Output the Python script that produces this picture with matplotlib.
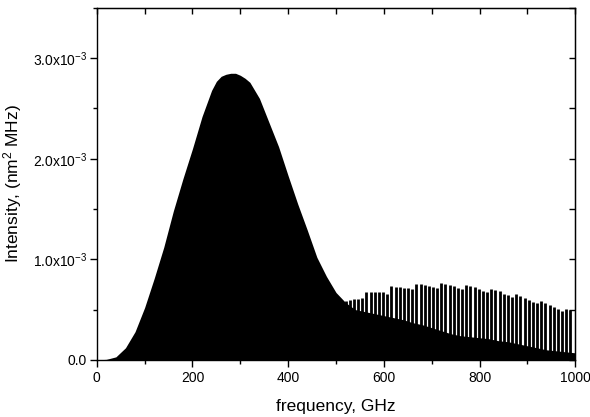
import numpy as np
import matplotlib.pyplot as plt
from matplotlib.ticker import MultipleLocator, FixedLocator

plt.rcParams["font.family"] = ["Liberation Sans", "DejaVu Sans"]
plt.rcParams["mathtext.fontset"] = "custom"
plt.rcParams["mathtext.rm"] = "Liberation Sans"
plt.rcParams["mathtext.it"] = "Liberation Sans"

# ---- envelope of the dense band (GHz, intensity in 1e-3 nm^2 MHz)
env_freq = [0, 20, 40, 60, 80, 100, 120, 140, 160, 180, 200, 220, 240, 250, 260,
            270, 280, 290, 300, 310, 320, 340, 360, 380, 400, 420, 440, 460, 480,
            500, 520, 540, 560, 580, 600, 620, 640, 660, 680, 700, 720, 740, 760,
            780, 800, 820, 840, 860, 880, 900, 920, 940, 960, 980, 1000]
env_int = [0.0, 0.005, 0.03, 0.12, 0.28, 0.52, 0.81, 1.12, 1.48, 1.80, 2.10, 2.42,
           2.68, 2.77, 2.82, 2.84, 2.85, 2.85, 2.83, 2.80, 2.76, 2.60, 2.36, 2.12,
           1.83, 1.55, 1.29, 1.02, 0.83, 0.67, 0.57, 0.50, 0.48, 0.46, 0.44, 0.42,
           0.40, 0.37, 0.35, 0.32, 0.29, 0.26, 0.24, 0.23, 0.22, 0.21, 0.19, 0.18,
           0.16, 0.14, 0.12, 0.10, 0.09, 0.08, 0.07]

# ---- strong comb lines above ~520 GHz
comb_freq = [520.0, 528.7, 537.4, 546.1, 554.8, 563.5, 572.2, 580.9, 589.6, 598.3,
             607.0, 615.7, 624.4, 633.1, 641.8, 650.5, 659.2, 667.9, 676.6, 685.3,
             694.0, 702.7, 711.4, 720.1, 728.8, 737.5, 746.2, 754.9, 763.6, 772.3,
             781.0, 789.7, 798.4, 807.1, 815.8, 824.5, 833.2, 841.9, 850.6, 859.3,
             868.0, 876.7, 885.4, 894.1, 902.8, 911.5, 920.2, 928.9, 937.6, 946.3,
             955.0, 963.7, 972.4, 981.1, 989.8]
comb_int = [0.59, 0.60, 0.61, 0.61, 0.62,
            0.67, 0.67, 0.67, 0.67, 0.67, 0.66,
            0.73, 0.72, 0.72, 0.71, 0.71, 0.70,
            0.75, 0.75, 0.74, 0.73, 0.72, 0.71,
            0.76, 0.75, 0.74, 0.73, 0.71, 0.70,
            0.74, 0.73, 0.72, 0.70, 0.68, 0.67,
            0.70, 0.69, 0.68, 0.66, 0.65, 0.63,
            0.66, 0.64, 0.62, 0.60, 0.58, 0.57,
            0.59, 0.57, 0.55, 0.53, 0.51, 0.49,
            0.51, 0.50]

yticks = [0.0, 1e-3, 2e-3, 3e-3]
ylabels = ["0.0", r"1.0x10$^{-3}$", r"2.0x10$^{-3}$", r"3.0x10$^{-3}$"]

fig = plt.figure(figsize=(5.9, 4.17), dpi=100)
ax = fig.add_axes([0.164, 0.137, 0.811, 0.844])

ax.fill_between(env_freq, np.array(env_int) * 1e-3, 0, color="black", lw=0)
ax.vlines(comb_freq, 0, np.array(comb_int) * 1e-3, color="black", lw=2.0)

ax.set_xlim(0, 1000)
ax.set_ylim(0, 3.5e-3)

ax.xaxis.set_major_locator(MultipleLocator(200))
ax.xaxis.set_minor_locator(MultipleLocator(100))
ax.yaxis.set_major_locator(FixedLocator(yticks))
ax.set_yticklabels(ylabels)
ax.yaxis.set_minor_locator(MultipleLocator(0.5e-3))

ax.tick_params(axis="both", which="both", labelsize=10, width=1.0)
ax.tick_params(axis="x", which="major", direction="out", length=5, pad=3)
ax.tick_params(axis="x", which="minor", direction="out", length=3)
ax.tick_params(axis="y", which="major", direction="out", length=5, pad=2)
ax.tick_params(axis="y", which="minor", direction="out", length=3)

for sp in ax.spines.values():
    sp.set_linewidth(1.0)

# top and right inward ticks
axt = ax.secondary_xaxis("top")
axt.xaxis.set_major_locator(MultipleLocator(100))
axt.tick_params(direction="in", length=4, width=1.0, labeltop=False)
axr = ax.secondary_yaxis("right")
axr.yaxis.set_major_locator(MultipleLocator(0.5e-3))
axr.tick_params(direction="in", length=4, width=1.0, labelright=False)

ax.set_xlabel("frequency, GHz", fontsize=12.5, labelpad=10)
ax.set_ylabel(r"Intensity, (nm$^2$ MHz)", fontsize=12.5, labelpad=6)

fig.savefig("out.png", dpi=100)
